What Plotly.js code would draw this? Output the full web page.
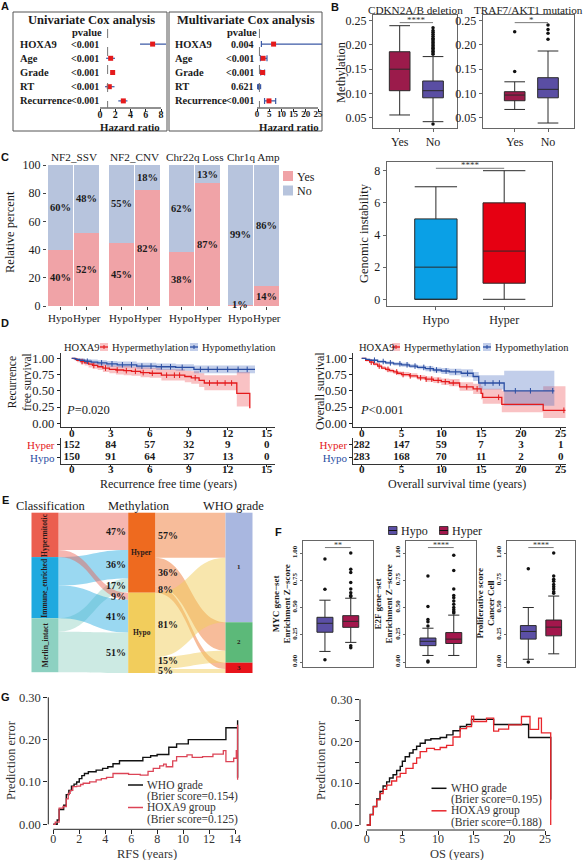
<!DOCTYPE html>
<html><head><meta charset="utf-8">
<script src="https://cdn.plot.ly/plotly-3.0.1.min.js"></script>
<style>html,body{margin:0;padding:0;background:#fff}#chart{width:585px;height:860px}</style>
</head><body><div id="chart"></div>
<script>
// ================= DATA =================
// A: Cox analyses
const coxRows = ['HOXA9','Age','Grade','RT','Recurrence'];
const uniHR = [6.9,1.4,1.66,1.22,3.06];
const uniLo = [5.25,0.8,1.4,0.66,2.4];
const uniHi = [9.5,1.97,1.9,1.9,3.6];
const uniP = ['<0.001','<0.001','<0.001','<0.001','<0.001'];
const multiHR = [6.8,2.5,2.3,0.7,4.9];
const multiLo = [1.8,1.4,1.5,0.6,3.1];
const multiHi = [26.9,4.1,3.1,0.8,7.65];
const multiP = ['0.004','<0.001','<0.001','0.621','<0.001'];
const uniTicks = [0,2,4,6,8];
const multiTicks = [0,5,10,15,20,25];

// B: methylation boxes [lower whisker, q1, median, q3, upper whisker]
const bGroups = ['Yes','No'];
const cdknYes = [0.0556,0.1057,0.150,0.186,0.2397];
const cdknNo = [0.0418,0.091,0.1057,0.1257,0.176];
const cdknNoOut = [0.037,0.181,0.184,0.187,0.19,0.193,0.196,0.199,0.202,0.205,0.208,0.211,0.214,0.218,0.222,0.226,0.23,0.2355];
const trafYes = [0.067,0.085,0.0967,0.1036,0.124];
const trafYesOut = [0.145,0.227];
const trafNo = [0.039,0.091,0.1085,0.1325,0.1875];
const trafNoOut = [0.2116,0.224,0.232,0.2411];
const methTicks = [0.05,0.10,0.15,0.20,0.25];

// C: relative percent
const cGenes = ['NF2_SSV','NF2_CNV','Chr22q Loss','Chr1q Amp'];
const cGroups = ['Hypo','Hyper'];
const yesHypo = [40,45,38,1];
const yesHyper = [52,82,87,14];
const noHypo = [60,55,62,99];
const noHyper = [48,18,13,86];
const pctTicks = [0,20,40,60,80,100];
const cLegend = ['Yes','No'];
// C: genomic instability
const giHypo = [0,0,2,5,7];
const giHyper = [0,1,3,6,8];
const giTicks = [0,2,4,6,8];

// D: Kaplan-Meier
const rfsHyperT = [0,0.2,0.4,0.7,1.0,1.3,1.6,2.0,2.4,2.9,3.4,4.0,4.6,5.3,6.0,6.9,8.7,9.2,9.8,10.2,12.7,13.7];
const rfsHyperS = [1,0.99,0.97,0.95,0.93,0.91,0.89,0.87,0.85,0.83,0.82,0.81,0.80,0.78,0.77,0.74,0.72,0.70,0.66,0.62,0.46,0.23];
const rfsHyperLo = [1,0.97,0.94,0.91,0.89,0.86,0.84,0.82,0.79,0.77,0.75,0.74,0.73,0.71,0.70,0.66,0.63,0.61,0.56,0.51,0.26,0.03];
const rfsHyperHi = [1,1,0.995,0.99,0.97,0.96,0.94,0.93,0.91,0.89,0.88,0.88,0.87,0.86,0.85,0.83,0.81,0.80,0.77,0.74,0.79,0.88];
const rfsHypoT = [0,0.3,0.6,1.0,1.5,2.0,2.7,3.5,5.0,6.5,8.0,9.4,14.1];
const rfsHypoS = [1,0.985,0.97,0.955,0.94,0.93,0.915,0.90,0.88,0.87,0.86,0.83,0.83];
const rfsHypoLo = [1,0.96,0.94,0.92,0.90,0.89,0.87,0.86,0.84,0.82,0.81,0.77,0.77];
const rfsHypoHi = [1,1,1,0.99,0.98,0.97,0.96,0.95,0.93,0.92,0.91,0.89,0.89];
const rfsHyperCens = [0.8,1.7,2.6,3.5,4.2,4.9,5.5,6.2,7.3,7.9,8.3,9.5,10.6,11.2,11.8,12.3];
const rfsHypoCens = [1.2,2.3,3.1,3.9,4.6,5.4,6.1,6.9,7.6,8.5,9.9,10.5,11.2,12.0,12.8,13.5];
const osHyperT = [0,0.5,1,1.5,2,2.5,3,3.5,4,4.5,5,6,7,8,9,10,11,12.3,14.0,15.0,15.2,17.6,22.8,25.6];
const osHyperS = [1,0.97,0.94,0.91,0.88,0.85,0.83,0.81,0.79,0.77,0.75,0.73,0.70,0.68,0.66,0.64,0.62,0.56,0.53,0.46,0.40,0.29,0.20,0.20];
const osHyperLo = [1,0.95,0.92,0.89,0.86,0.83,0.80,0.78,0.76,0.74,0.72,0.70,0.67,0.64,0.62,0.59,0.57,0.50,0.45,0.37,0.30,0.17,0.08,0.08];
const osHyperHi = [1,0.99,0.97,0.94,0.91,0.88,0.86,0.84,0.82,0.80,0.79,0.77,0.74,0.72,0.71,0.69,0.68,0.63,0.61,0.57,0.53,0.50,0.57,0.57];
const osHypoT = [0,0.5,1,2,3,4,5,6,7,8,9,10,11,12.5,14.0,14.7,17.9,24.2];
const osHypoS = [1,0.985,0.97,0.95,0.93,0.915,0.90,0.88,0.86,0.84,0.82,0.805,0.79,0.77,0.72,0.62,0.50,0.50];
const osHypoLo = [1,0.975,0.955,0.93,0.91,0.89,0.87,0.85,0.83,0.80,0.78,0.76,0.74,0.71,0.65,0.52,0.27,0.27];
const osHypoHi = [1,0.995,0.985,0.97,0.955,0.94,0.93,0.91,0.89,0.88,0.86,0.85,0.84,0.83,0.79,0.74,0.81,0.81];
const osHyperCens = [1.2,2.2,3.3,4.4,5.2,6.1,7.4,8.1,8.8,9.6,10.5,11.5,13.2,14.5,17.2,25.4];
const osHypoCens = [1.6,2.7,3.6,4.8,5.7,6.7,7.8,8.6,9.4,10.6,11.8,13.3,15.5,16.5,17.3,19.3,21.2,24.0];
const survTicks = [0,0.25,0.5,0.75,1];
const kmLegend = ['Hypermethylation','Hypomethylation'];
const rfsRiskT = [0,3,6,9,12,15];
const rfsRiskHyper = [152,84,57,32,9,0];
const rfsRiskHypo = [150,91,64,37,13,0];
const osRiskT = [0,5,10,15,20,25];
const osRiskHyper = [282,147,59,7,3,1];
const osRiskHypo = [283,168,70,11,2,0];

// E: Sankey
const classNames = ['Hypermitotic','Immune_enriched','Merlin_intact'];
const methNames = ['Hyper','Hypo'];
const gradeNames = ['1','2','3'];
const methN = [282,283];
const pctToHyper = [47,36,17];
const pctToHypo = [9,41,51];
const pctFromHyper = [57,36,8];
const pctFromHypo = [81,15,5];

// F: gene-set boxes [lower whisker, q1, median, q3, upper whisker]
const fGroups = ['Hypo','Hyper'];
const mycHypo = [0.097,0.273,0.355,0.41,0.567];
const mycHypoOut = [0.02,0.667,0.945];
const mycHyper = [0.18,0.318,0.373,0.425,0.585];
const mycHyperOut = [0.13,0.15,0.60,0.61,0.636,0.67,0.73,0.82,0.85,1.0];
const e2fHypo = [0.06,0.15,0.19,0.22,0.31];
const e2fHypoOut = [0.0,0.01,0.33,0.37,0.39,0.51,0.79];
const e2fHyper = [0.06,0.17,0.21,0.27,0.43];
const e2fHyperOut = [0.45,0.46,0.48,0.50,0.53,0.56,0.59,0.61,0.67,0.84,0.98];
const prolHypo = [0.025,0.21,0.28,0.334,0.50];
const prolHypoOut = [0.0,0.855];
const prolHyper = [0.075,0.24,0.32,0.385,0.605];
const prolHyperOut = [0.63,0.645,0.67,0.69,0.71,0.74,0.76,0.79,1.0];
const fTicks = [0,0.25,0.5,0.75,1];

// G: prediction error curves
const gRfsWhoT = [0,0.2,0.3,0.45,0.8,1.0,1.2,1.4,1.6,1.8,2.0,2.2,2.4,2.7,3.3,3.8,4.2,4.6,5.1,6.7,6.9,7.5,8.0,8.9,9.5,10.4,13.3,14.2,14.2,14.2];
const gRfsWhoV = [0,0,0.01,0.035,0.045,0.07,0.08,0.09,0.095,0.1,0.108,0.115,0.12,0.124,0.128,0.132,0.136,0.143,0.15,0.15,0.158,0.162,0.165,0.182,0.19,0.2,0.228,0.228,0.246,0.11];
const gRfsHoxT = [0,0.15,0.45,0.75,1.0,1.15,1.3,1.5,1.8,2.1,2.3,2.8,3.3,3.7,4.1,4.6,5.1,5.8,6.7,7.3,7.7,8.2,8.5,8.7,9.2,9.5,10.3,10.7,11.5,12.3,13.1,13.3,13.9,14.1,14.2,14.2];
const gRfsHoxV = [0,0.005,0.038,0.042,0.06,0.073,0.08,0.089,0.09,0.094,0.097,0.1,0.105,0.108,0.111,0.12,0.12,0.118,0.116,0.125,0.132,0.138,0.142,0.136,0.15,0.16,0.164,0.158,0.16,0.166,0.174,0.148,0.156,0.174,0.235,0.105];
const gOsWhoT = [0,0.5,0.93,1.4,1.87,2.3,2.8,3.2,3.7,4.2,4.7,5.0,5.4,6.0,6.5,7.0,7.5,8.2,9.0,10.3,11.2,12.1,13.1,14.0,14.7,17.8,22.7,25.8,25.8];
const gOsWhoV = [0,0.025,0.044,0.062,0.08,0.093,0.103,0.112,0.12,0.13,0.14,0.152,0.163,0.172,0.18,0.188,0.195,0.203,0.206,0.209,0.215,0.225,0.235,0.24,0.252,0.24,0.209,0.209,0.06];
const gOsHoxT = [0,0.5,0.93,1.4,1.87,2.3,2.8,3.5,4.2,4.7,5.5,6.5,7.0,7.5,8.4,9.5,10.3,11.2,12.1,13.1,14.0,14.7,15.0,16.8,17.8,18.5,19.9,21.7,22.9,24.1,24.5,25.8,25.8];
const gOsHoxV = [0,0.025,0.044,0.06,0.075,0.085,0.095,0.105,0.115,0.123,0.135,0.147,0.16,0.175,0.183,0.18,0.185,0.19,0.21,0.23,0.235,0.26,0.247,0.255,0.224,0.229,0.239,0.259,0.228,0.255,0.22,0.22,0];
const gModels = ['WHO grade','HOXA9 group'];
const gRfsBrier = [0.154,0.125];
const gOsBrier = [0.195,0.188];
const gYTicks = [0,0.1,0.2,0.3];

// ================= HELPERS =================
const SERIF='Liberation Serif', SANS='Liberation Sans';
const W=585,H=860;
const X=p=>p/W, Y=p=>1-p/H;
const dx=(a,b)=>[X(a),X(b)], dy=(t,b)=>[Y(b),Y(t)];
const rng=(d0,d1,p0,v0,p1,v1)=>{const k=(v1-v0)/(p1-p0);return [v0+(d0-p0)*k, v0+(d1-p0)*k];};
const F=(size,o)=>Object.assign({family:SERIF,size:size,color:'#1a1a1a'},o||{});
const esc=s=>String(s).replace(/</g,'&lt;');
const stepAt=(t,ts,ss)=>{let v=ss[0];for(let i=0;i<ts.length;i++){if(ts[i]<=t)v=ss[i];}return v;};
const ann=[], shp=[], tr=[];
function T(text,x,y,font,o){ann.push(Object.assign({text:text,x:X(x),y:Y(y),xref:'paper',yref:'paper',showarrow:false,xanchor:'center',yanchor:'middle',font:font},o||{}));}
function R(x0,y0,x1,y1,fill,lc,lw){shp.push({type:'rect',xref:'paper',yref:'paper',x0:X(x0),x1:X(x1),y0:Y(y1),y1:Y(y0),fillcolor:fill||'rgba(0,0,0,0)',line:{color:lc||'rgba(0,0,0,0)',width:lw||0}});}
function Ln(x0,y0,x1,y1,c,w){shp.push({type:'line',xref:'paper',yref:'paper',x0:X(x0),x1:X(x1),y0:Y(y0),y1:Y(y1),line:{color:c,width:w}});}
const L={width:W,height:H,margin:{l:0,r:0,t:0,b:0,autoexpand:false},paper_bgcolor:'#fff',plot_bgcolor:'rgba(0,0,0,0)',
  font:{family:SERIF,color:'#1a1a1a'},showlegend:false,annotations:ann,shapes:shp,hovermode:false};
function frameAx(o){return Object.assign({showgrid:false,zeroline:false,showline:true,mirror:true,linecolor:'#666',linewidth:1,ticks:'outside',ticklen:3,tickcolor:'#666',tickangle:0,tickfont:F(12)},o);}
function plainAx(o){return Object.assign({showgrid:false,zeroline:false,showline:false,ticks:'outside',ticklen:3,tickcolor:'#222',tickangle:0,tickfont:F(12)},o);}
function boxTrace(xa,ya,cat,st,color,ww,o){return Object.assign({type:'box',xaxis:xa,yaxis:ya,x:[cat],lowerfence:[st[0]],q1:[st[1]],median:[st[2]],q3:[st[3]],upperfence:[st[4]],
  width:0.62,whiskerwidth:ww,fillcolor:color,line:{color:'#2a2a2a',width:1},boxpoints:false,showlegend:false,hoverinfo:'skip'},o||{});}
function outTrace(xa,ya,cat,vals,size){return {type:'scatter',mode:'markers',xaxis:xa,yaxis:ya,x:vals.map(()=>cat),y:vals,marker:{color:'#111',size:size},showlegend:false,hoverinfo:'skip'};}
function bracket(xa,ya,yv,label,size){
  shp.push({type:'line',xref:xa,yref:ya,x0:0,x1:1,y0:yv,y1:yv,line:{color:'#555',width:0.8}});
  ann.push({text:label,xref:xa,yref:ya,x:0.5,y:yv,yanchor:'bottom',yshift:-4,showarrow:false,font:F(size,{color:'#333'})});
}

// ================= PANEL LABELS =================
[['A',5,6],['B',335,7],['C',5,157],['D',5,323],['E',5,500],['F',278,532],['G',5,697]].forEach(p=>
  T(p[0],p[1],p[2],{family:SANS,size:11,color:'#111',weight:'bold'}));

// ================= A =================
function forest(n,xd,tickPx0,tickPx1,tickVals,hr,lo,hi,pv,title,titleX,labX,pX,hrX,capW,ptCols,tickSize){
  const xa='x'+(n===1?'':n), ya='y'+(n===1?'':n);
  const tmax=tickVals[tickVals.length-1];
  L['xaxis'+(n===1?'':n)]=plainAx({domain:dx(xd[0],xd[1]),range:rng(xd[0],xd[1],tickPx0,0,tickPx1,tmax),anchor:ya,tickvals:tickVals,
    tickfont:F(tickSize,{weight:'bold'}),ticklabelstandoff:-6});
  L['yaxis'+(n===1?'':n)]={domain:dy(37,108),type:'category',categoryorder:'array',categoryarray:coxRows,range:[4.5,-0.5],visible:false,anchor:xa};
  shp.push({type:'line',xref:xa,yref:ya+' domain',x0:0,x1:tmax,y0:0,y1:0,line:{color:'#222',width:1}});
  shp.push({type:'line',xref:xa,yref:'paper',x0:1,x1:1,y0:Y(29),y1:Y(108),line:{color:'#777',width:1,dash:'dash'}});
  tr.push({type:'scatter',mode:'markers',xaxis:xa,yaxis:ya,x:hr,y:coxRows,
    marker:{symbol:'square',size:5,color:ptCols},
    error_x:{type:'data',symmetric:false,array:hi.map((h,i)=>h-hr[i]),arrayminus:hr.map((v,i)=>v-lo[i]),color:'#3c5aa6',thickness:1.2,width:capW},
    showlegend:false,hoverinfo:'skip'});
  coxRows.forEach((r,i)=>{
    ann.push({text:r,xref:'paper',yref:ya,x:X(labX),y:i,xanchor:'left',showarrow:false,font:F(10.5,{weight:'bold'})});
    ann.push({text:esc(pv[i]),xref:'paper',yref:ya,x:X(pX),y:i,xanchor:'right',showarrow:false,font:F(10,{weight:'bold'})});
  });
  T('pvalue',pX-14,32,F(10.5,{weight:'bold'}));
  T(title,titleX,20,F(12.5,{weight:'bold'}));
  T('Hazard ratio',hrX,126.5,F(10.8,{weight:'bold'}));
}
R(13,12,167,131,null,'#555',1);
R(169,12,322,131,null,'#555',1);
forest(1,[100,166],100,161,uniTicks,uniHR,uniLo,uniHi,uniP,'Univariate Cox analysis',91,18,101,130,0,'#e41a1c',10);
forest(2,[257,322],257,318,multiTicks,multiHR,multiLo,multiHi,multiP,'Multivariate Cox analysis',246,172.5,255.5,289,3,
  ['#e41a1c','#e41a1c','#e41a1c','#3c5aa6','#e41a1c'],9);

// ================= B =================
const yB=rng(128,15,117.7,0.05,20.7,0.25);
L.xaxis3=frameAx({domain:dx(373,456.7),range:[-0.8,1.71],type:'category',categoryorder:'array',categoryarray:bGroups,anchor:'y3'});
L.yaxis3=frameAx({domain:dy(15,128),range:yB,tickvals:methTicks,tickformat:'.2f',anchor:'x3'});
L.xaxis4=frameAx({domain:dx(482.7,574),range:[-0.96,1.78],type:'category',categoryorder:'array',categoryarray:bGroups,anchor:'y4'});
L.yaxis4=frameAx({domain:dy(15,128),range:yB,tickvals:methTicks,tickformat:'.2f',anchor:'x4'});
tr.push(boxTrace('x3','y3','Yes',cdknYes,'#9b1b4b',1));
tr.push(boxTrace('x3','y3','No',cdknNo,'#5a4ea3',1));
tr.push(outTrace('x3','y3','No',cdknNoOut,3.5));
tr.push(boxTrace('x4','y4','Yes',trafYes,'#9b1b4b',1));
tr.push(boxTrace('x4','y4','No',trafNo,'#5a4ea3',1));
tr.push(outTrace('x4','y4','Yes',trafYesOut,3.5));
tr.push(outTrace('x4','y4','No',trafNoOut,3.5));
bracket('x3','y3',0.246,'****',9);
bracket('x4','y4',0.246,'*',9);
T('CDKN2A/B deletion',415,10,F(11.2));
T('TRAF7/AKT1 mutation',528,10,F(11.2));
T('Methylation',341,72,F(12.5),{textangle:-90});

// ================= C (stacked bars) =================
const facetPx=[[47,100],[108,161],[168,221],[227,280]];
const cCols=['#f0a3a7','#b7c4dd'];
L.yaxis5=plainAx({domain:dy(165,306),range:[0,100],tickvals:pctTicks,ticksuffix:'%',anchor:'x5',tickcolor:'#444'});
cGenes.forEach((g,i)=>{
  const n=5+i, xa='x'+n;
  L['xaxis'+n]=plainAx({domain:dx(facetPx[i][0],facetPx[i][1]),type:'category',categoryorder:'array',categoryarray:cGroups,range:[-0.5,1.5],anchor:'y5',tickcolor:'#444',ticklabelstandoff:-1,tickfont:F(11)});
  const yes=[yesHypo[i],yesHyper[i]], no=[noHypo[i],noHyper[i]];
  tr.push({type:'bar',xaxis:xa,yaxis:'y5',x:cGroups,y:yes,name:cLegend[0],marker:{color:cCols[0],line:{width:0}},hoverinfo:'skip'});
  tr.push({type:'bar',xaxis:xa,yaxis:'y5',x:cGroups,y:no,name:cLegend[1],marker:{color:cCols[1],line:{width:0}},hoverinfo:'skip'});
  cGroups.forEach((c,k)=>{
    ann.push({text:'<b>'+yes[k]+'%</b>',xref:xa,yref:'y5',x:k,y:Math.max(yes[k]/2,1),showarrow:false,font:F(10.5)});
    ann.push({text:'<b>'+no[k]+'%</b>',xref:xa,yref:'y5',x:k,y:yes[k]+no[k]/2,showarrow:false,font:F(10.5)});
  });
  T(g,(facetPx[i][0]+facetPx[i][1])/2,157,F(11.2));
});
L.barmode='stack'; L.bargap=0.05;
T('Relative percent',10,232,F(12.5),{textangle:-90});
cLegend.forEach((s,i)=>{R(283,171+i*14.5,293,181+i*14.5,cCols[i]);T(s,295,176.5+i*14.5,F(12),{xanchor:'left'});});

// C genomic instability
L.xaxis9=frameAx({domain:dx(386.7,552),range:[-0.72,1.7],type:'category',categoryorder:'array',categoryarray:fGroups,anchor:'y9'});
L.yaxis9=frameAx({domain:dy(161.7,306),range:rng(306,161.7,299.3,0,170.7,8),tickvals:giTicks,anchor:'x9'});
tr.push(boxTrace('x9','y9','Hypo',giHypo,'#0aa0e6',1));
tr.push(boxTrace('x9','y9','Hyper',giHyper,'#e60012',1));
bracket('x9','y9',8.15,'****',9);
T('Genomic instability',364,233,F(12.5),{textangle:-90});

// ================= D =================
const kmCols=['#e41a1c','#2b4ea2'], kmBands=['rgba(238,80,85,0.35)','rgba(70,105,190,0.33)'];
function km(nK,nR,xd,tick0px,tickEndPx,riskT,rH,rL,curves,pTxt,pX,xTitle,xTitleX,leg){
  const xk='x'+nK, yk='y'+nK, xr='x'+nR, yr='y'+nR;
  const tmax=riskT[riskT.length-1];
  const xr0=rng(xd[0],xd[1],tick0px,0,tickEndPx,tmax);
  L['xaxis'+nK]=plainAx({domain:dx(xd[0],xd[1]),range:xr0,tickvals:riskT,showline:true,linecolor:'#333',anchor:yk,ticklen:2,tickfont:F(11.2,{weight:'bold'}),ticklabelstandoff:-7});
  L['yaxis'+nK]=plainAx({domain:dy(353,427.3),range:rng(427.3,353,423.3,0,358.3,1),tickvals:survTicks,tickformat:'.2f',showline:true,linecolor:'#333',anchor:xk,tickfont:F(12.5)});
  L['xaxis'+nR]=plainAx({domain:dx(xd[0],xd[1]),range:xr0,tickvals:riskT,showline:true,linecolor:'#333',anchor:yr,ticklen:2,tickfont:F(11.2,{weight:'bold'}),ticklabelstandoff:-7});
  L['yaxis'+nR]=plainAx({domain:dy(438,464),type:'category',categoryorder:'array',categoryarray:['Hypo','Hyper'],range:[-0.5,1.55],
    tickvals:['Hyper','Hypo'],ticktext:['<span style="color:#e41a1c">Hyper</span>','<span style="color:#2b4ea2">Hypo</span>'],
    showline:true,linecolor:'#333',anchor:xr,tickfont:F(11)});
  curves.forEach((c,i)=>{
    tr.push({type:'scatter',mode:'lines',xaxis:xk,yaxis:yk,x:c.t,y:c.lo,line:{shape:'hv',width:0},hoverinfo:'skip'});
    tr.push({type:'scatter',mode:'lines',xaxis:xk,yaxis:yk,x:c.t,y:c.hi,line:{shape:'hv',width:0},fill:'tonexty',fillcolor:kmBands[i],hoverinfo:'skip'});
  });
  curves.forEach((c,i)=>{
    tr.push({type:'scatter',mode:'lines',xaxis:xk,yaxis:yk,x:c.t,y:c.s,line:{shape:'hv',width:1.3,color:kmCols[i]},name:kmLegend[i],hoverinfo:'skip'});
    tr.push({type:'scatter',mode:'markers',xaxis:xk,yaxis:yk,x:c.cens,y:c.cens.map(t=>stepAt(t,c.t,c.s)),marker:{symbol:'line-ns',size:4,line:{width:1,color:kmCols[i]}},hoverinfo:'skip'});
  });
  tr.push({type:'scatter',mode:'text',xaxis:xr,yaxis:yr,x:riskT,y:riskT.map(()=>'Hyper'),text:rH.map(String),textfont:F(11,{weight:'bold'}),cliponaxis:false,hoverinfo:'skip'});
  tr.push({type:'scatter',mode:'text',xaxis:xr,yaxis:yr,x:riskT,y:riskT.map(()=>'Hypo'),text:rL.map(String),textfont:F(11,{weight:'bold'}),cliponaxis:false,hoverinfo:'skip'});
  ann.push({text:pTxt,xref:xk,yref:yk,x:pX,y:0.2,xanchor:'left',showarrow:false,font:F(12.5)});
  T(xTitle,xTitleX,483.5,F(12));
  T('HOXA9',leg[0],347,F(10.5),{xanchor:'left'});
  kmLegend.forEach((s,i)=>{
    const kx=leg[1+i];
    R(kx,343,kx+8,351,kmBands[i]);
    Ln(kx,347,kx+8,347,kmCols[i],1.3);
    Ln(kx+4,345,kx+4,349,kmCols[i],1);
    T(s,kx+10,347,F(10.5),{xanchor:'left'});
  });
}
km(10,11,[60.7,275],71.7,266.7,rfsRiskT,rfsRiskHyper,rfsRiskHypo,[
  {t:rfsHyperT,s:rfsHyperS,lo:rfsHyperLo,hi:rfsHyperHi,cens:rfsHyperCens},
  {t:rfsHypoT,s:rfsHypoS,lo:rfsHypoLo,hi:rfsHypoHi,cens:rfsHypoCens}
],'<i>P</i>=0.020',-0.6,'Recurrence free time (years)',168,[61.5,100,190]);
km(12,13,[353.3,566],361.7,560.7,osRiskT,osRiskHyper,osRiskHypo,[
  {t:osHyperT,s:osHyperS,lo:osHyperLo,hi:osHyperHi,cens:osHyperCens},
  {t:osHypoT,s:osHypoS,lo:osHypoLo,hi:osHypoHi,cens:osHypoCens}
],'<i>P</i>&lt;0.001',-0.5,'Overall survival time (years)',457,[356.5,392,483]);
T('Recurrence<br>free survival',20,382,F(11.5),{textangle:-90});
T('Overall survival',320,391,F(12),{textangle:-90});

// ================= E (Sankey) =================
const sxPx=[31.7,252.3], syPx=[512.7,673], colCenterPx=[45,141.7,239];
const nodeColors=['#eb5e4f','#1fa9df','#8dd1c1','#ee6a1f','#f2cd5c','#a9b7e0','#5cb979','#e8141b'];
const linkBase=['rgba(235,94,79,0.45)','rgba(31,169,223,0.45)','rgba(141,209,193,0.45)','rgba(238,106,31,0.45)','rgba(242,205,92,0.5)'];
const inPct=[pctToHyper,pctToHypo], outPct=[pctFromHyper,pctFromHypo];
const src=[],tgt=[],val=[],lcol=[];
methNames.forEach((m,j)=>classNames.forEach((c,i)=>{src.push(i);tgt.push(3+j);val.push(inPct[j][i]/100*methN[j]);lcol.push(linkBase[i]);}));
methNames.forEach((m,j)=>gradeNames.forEach((g,k)=>{src.push(3+j);tgt.push(5+k);val.push(outPct[j][k]/100*methN[j]);lcol.push(linkBase[3+j]);}));
const nIn=Array(8).fill(0), nOut=Array(8).fill(0);
src.forEach((s,l)=>{nOut[s]+=val[l];nIn[tgt[l]]+=val[l];});
const nVal=nIn.map((v,i)=>Math.max(v,nOut[i]));
const cols=[[0,1,2],[3,4],[5,6,7]];
const colSum=cols.map(c=>c.reduce((a,i)=>a+nVal[i],0));
const hPx=syPx[1]-syPx[0], ky=hPx/Math.max.apply(null,colSum);
const nTop=[], nX=[], nY=[];
cols.forEach((c,ci)=>{let acc=0;c.forEach(i=>{nTop[i]=syPx[0]+acc*ky;nX[i]=(colCenterPx[ci]-sxPx[0])/(sxPx[1]-sxPx[0]);nY[i]=(acc+nVal[i]/2)*ky/hPx;acc+=nVal[i];});});
tr.push({type:'sankey',domain:{x:dx(sxPx[0],sxPx[1]),y:dy(syPx[0],syPx[1])},arrangement:'fixed',
  node:{label:nodeColors.map(()=>''),color:nodeColors,pad:0,thickness:27,line:{width:0},x:nX,y:nY,hoverinfo:'none'},
  link:{source:src,target:tgt,value:val,color:lcol,line:{width:0},hoverinfo:'none'}});
classNames.forEach((c,i)=>T('<b>'+c+'</b>',colCenterPx[0],nTop[i]+nVal[i]*ky/2,F(7.5,{color:'#2a1a1a'}),{textangle:-90}));
methNames.forEach((m,j)=>T('<b>'+m+'</b>',colCenterPx[1],nTop[3+j]+nVal[3+j]*ky/2,F(7.5,{color:'#2a1a1a'})));
gradeNames.forEach((g,k)=>T('<b>'+g+'</b>',colCenterPx[2],nTop[5+k]+nVal[5+k]*ky/2,F(7,{color:'#2a1a1a'})));
function pctLabels(pcts,j,xPx,anchor){
  let acc=0; const ys=[];
  pcts.forEach(p=>{const v=p/100*methN[j];ys.push(nTop[3+j]+(acc+v/2)*ky);acc+=v;});
  ys[ys.length-1]=Math.min(ys[ys.length-1],syPx[1]-3);
  for(let k=ys.length-1;k>0;k--){if(ys[k]-ys[k-1]<10)ys[k-1]=ys[k]-10;}
  pcts.forEach((p,k)=>T('<b>'+p+'%</b>',xPx,ys[k],F(10,{}),{xanchor:anchor}));
}
methNames.forEach((m,j)=>{pctLabels(inPct[j],j,127.5,'right');pctLabels(outPct[j],j,156,'left');});
T('Classification',50,506,F(12.5));
T('Methylation',138.5,506,F(12.5));
T('WHO grade',233.5,506,F(12.5));

// ================= F =================
const fPx=[[303,372.7],[406,475.7],[506.7,575.3]];
const fCols=['#5b4fa5','#a3174c'];
const fY=rng(667,540.7,662,0,553,1);
const fSets=[[mycHypo,mycHypoOut,mycHyper,mycHyperOut,'**','MYC gene−set<br>Enrichment Z−score',281.5],
             [e2fHypo,e2fHypoOut,e2fHyper,e2fHyperOut,'****','E2F gene−set<br>Enrichment Z−score',383.5],
             [prolHypo,prolHypoOut,prolHyper,prolHyperOut,'****','Proliferative score<br>Cancer Cell',485.5]];
fSets.forEach((s,i)=>{
  const n=14+i, xa='x'+n, ya='y'+n;
  L['xaxis'+n]=frameAx({domain:dx(fPx[i][0],fPx[i][1]),range:[-0.85,1.85],type:'category',categoryorder:'array',categoryarray:fGroups,showticklabels:false,ticks:'',anchor:ya});
  L['yaxis'+n]=frameAx({domain:dy(540.7,667),range:fY,tickvals:fTicks,tickformat:'.2f',tickangle:-90,tickfont:F(7,{weight:'bold'}),ticklen:2,anchor:xa});
  tr.push(boxTrace(xa,ya,'Hypo',s[0],fCols[0],0.7));
  tr.push(boxTrace(xa,ya,'Hyper',s[2],fCols[1],0.7));
  tr.push(outTrace(xa,ya,'Hypo',s[1],3.5));
  tr.push(outTrace(xa,ya,'Hyper',s[3],3.5));
  bracket(xa,ya,1.05,s[4],8);
  T('<b>'+s[5]+'</b>',s[6],604,F(9),{textangle:-90});
});
fGroups.forEach((g,i)=>{
  const kx=[388.5,439.5][i];
  R(kx,526.5,kx+8.5,534.5,fCols[i],'#222',0.8);
  Ln(kx,530.5,kx+8.5,530.5,'#111',1);
  T(g,kx+10,530.5,F(12),{xanchor:'left'});
});

// ================= G =================
function gPlot(n,xd,yd,x0px,xEndPx,xEnd,xTicks,y0px,y30px,who,hox,brier,xTitle,xTitleX,yTitleX,legX,legY,redCol,minorY){
  const xa='x'+n, ya='y'+n, cc=['#111',redCol];
  L['xaxis'+n]=plainAx({domain:dx(xd[0],xd[1]),range:rng(xd[0],xd[1],x0px,0,xEndPx,xEnd),tickvals:xTicks,ticklen:4,anchor:ya,tickfont:F(12,{color:'#333'}),ticklabelstandoff:-6});
  L['yaxis'+n]=plainAx({domain:dy(yd[0],yd[1]),range:rng(yd[1],yd[0],y0px,0,y30px,0.3),tickvals:gYTicks,tickformat:'.2f',ticklen:4,anchor:xa,tickfont:F(12.5,{color:'#333'}),
    minor:minorY?{tickvals:[0.05,0.15,0.25],ticks:'outside',ticklen:4,tickcolor:'#222'}:undefined});
  shp.push({type:'line',xref:xa,yref:ya+' domain',x0:0,x1:xEnd,y0:0,y1:0,line:{color:'#222',width:1}});
  shp.push({type:'line',xref:xa+' domain',yref:ya,x0:0,x1:0,y0:0,y1:0.3,line:{color:'#222',width:1}});
  [who,hox].forEach((c,i)=>tr.push({type:'scatter',mode:'lines',xaxis:xa,yaxis:ya,x:c[0],y:c[1],line:{shape:'hv',color:cc[i],width:i?1.3:1.4},name:gModels[i],hoverinfo:'skip'}));
  T(xTitle,xTitleX,853.5,F(12.5,{color:'#333'}));
  T('Prediction error',yTitleX,760,F(12.5,{color:'#333'}),{textangle:-90});
  gModels.forEach((m,i)=>{
    const yy=legY+i*22.5;
    Ln(legX,yy,legX+15,yy,cc[i],1.5);
    T(m,legX+17,yy,F(11.5,{color:'#333'}),{xanchor:'left'});
    T('(Brier score='+brier[i].toFixed(3)+')',legX+17,yy+11.5,F(11.5,{color:'#333'}),{xanchor:'left'});
  });
}
gPlot(17,[48.3,243],[690,829.3],53.3,235,14,[0,2,4,6,8,10,12,14],824.3,697.3,[gRfsWhoT,gRfsWhoV],[gRfsHoxT,gRfsHoxV],gRfsBrier,'RFS (years)',147,11,128,785,'#dc4456',false);
gPlot(18,[360,556],[693,830],366.7,545,25,[0,5,10,15,20,25],825,699.3,[gOsWhoT,gOsWhoV],[gOsHoxT,gOsHoxV],gOsBrier,'OS (years)',457,321,431.5,788.3,'#e8262c',true);

Plotly.newPlot('chart',tr,L,{staticPlot:true,displayModeBar:false});
</script></body></html>
